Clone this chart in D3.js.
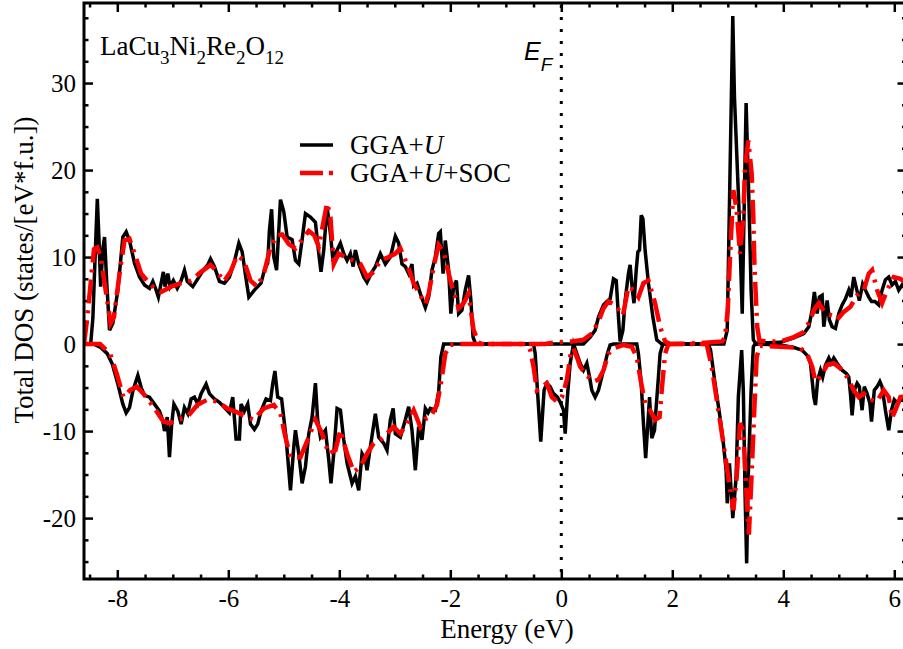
<!DOCTYPE html>
<html>
<head>
<meta charset="utf-8">
<script src="https://cdn.jsdelivr.net/npm/d3@7"></script>
<style>
  body { margin: 0; background: #fff; }
  svg { display: block; }
  .tick text { font-family: "Liberation Serif", "Times New Roman", serif; font-size: 25px; fill: #000; }
  .lbl { font-family: "Liberation Serif", "Times New Roman", serif; font-size: 27px; fill: #000; }
</style>
</head>
<body>
<div id="chart"></div>
<script>
// energy (eV), DOS (states/[eV*f.u.])
var ggaUp = [[-8.6,0],[-8.48,0],[-8.44,3],[-8.40,10],[-8.36,16.7],[-8.33,12],[-8.30,6.6],[-8.26,11],[-8.23,12.3],[-8.19,7],[-8.14,1.6],[-8.08,2.4],[-7.99,6.2],[-7.90,12.3],[-7.84,12.9],[-7.78,11.9],[-7.69,9.3],[-7.60,7.7],[-7.51,6.8],[-7.42,6.4],[-7.36,7.2],[-7.30,6.2],[-7.26,5.4],[-7.21,7.0],[-7.17,8.3],[-7.14,6.6],[-7.09,8.1],[-7.05,6.6],[-6.99,7.3],[-6.92,6.4],[-6.85,7.3],[-6.79,8.5],[-6.74,7.2],[-6.64,6.6],[-6.55,7.5],[-6.47,8.3],[-6.37,9.1],[-6.32,9.8],[-6.25,8.9],[-6.16,7.2],[-6.07,7.0],[-5.98,7.7],[-5.89,9.5],[-5.81,11.6],[-5.75,10.6],[-5.69,7.9],[-5.63,5.4],[-5.53,6.2],[-5.47,6.6],[-5.41,7.0],[-5.35,8.5],[-5.29,9.3],[-5.26,13.0],[-5.22,15.5],[-5.18,10],[-5.13,8.5],[-5.06,16.6],[-5.00,15.2],[-4.94,12.3],[-4.85,12.0],[-4.79,9.6],[-4.73,9.2],[-4.67,12.0],[-4.61,15.0],[-4.52,14.6],[-4.43,14.0],[-4.37,10.4],[-4.33,8.3],[-4.28,10.8],[-4.22,15.8],[-4.16,12.7],[-4.12,10.0],[-4.04,10.8],[-3.98,11.6],[-3.92,10.4],[-3.86,9.6],[-3.80,10.4],[-3.75,8.9],[-3.71,10.8],[-3.65,9.2],[-3.56,7.7],[-3.50,7.1],[-3.41,8.3],[-3.35,8.9],[-3.26,10.4],[-3.17,9.2],[-3.08,10.0],[-2.99,12.4],[-2.93,11.6],[-2.87,9.2],[-2.81,8.9],[-2.75,8.1],[-2.69,9.2],[-2.66,6.7],[-2.60,7.0],[-2.54,5.8],[-2.45,4.2],[-2.39,5.4],[-2.33,8.5],[-2.27,10.0],[-2.21,12.7],[-2.18,12.9],[-2.13,8.1],[-2.09,11.9],[-2.03,8.5],[-1.99,3.5],[-1.94,6.6],[-1.89,7.3],[-1.85,3.5],[-1.79,3.9],[-1.73,6.2],[-1.67,7.9],[-1.63,5.1],[-1.59,0.8],[-1.55,0.1],[-1.49,0],[0.40,0],[0.52,0.8],[0.61,1.6],[0.67,3.1],[0.76,4.5],[0.82,4.9],[0.88,5.2],[0.94,7.5],[0.99,7.3],[1.03,3.1],[1.06,0.3],[1.11,1.6],[1.15,5.0],[1.21,8.1],[1.24,9.1],[1.28,6.2],[1.31,4.7],[1.35,8.5],[1.38,10.6],[1.41,10.8],[1.44,14.8],[1.47,14.4],[1.51,10.8],[1.57,7.0],[1.65,3.1],[1.72,0.5],[1.81,0],[2.93,0],[2.99,1.6],[3.09,37.7],[3.12,28.4],[3.20,15.8],[3.26,3.5],[3.33,27.7],[3.38,16.6],[3.42,6.2],[3.46,0.5],[3.50,0.1],[3.95,0.2],[4.19,0.7],[4.37,1.2],[4.46,2.0],[4.52,3.9],[4.56,6.0],[4.61,3.5],[4.65,5.4],[4.70,5.6],[4.73,2.0],[4.79,5.0],[4.83,2.8],[4.88,2.0],[4.94,1.8],[5.00,3.5],[5.06,4.5],[5.12,5.2],[5.18,6.2],[5.22,5.4],[5.27,7.7],[5.31,6.6],[5.37,5.0],[5.43,6.9],[5.48,6.2],[5.54,5.4],[5.59,4.9],[5.65,4.9],[5.72,4.5],[5.78,6.2],[5.84,7.4],[5.90,7.7],[5.96,6.8],[6.02,7.2],[6.08,6.2],[6.14,6.8],[6.22,6.2]];

var ggaDn = [[-8.6,0],[-8.42,0],[-8.30,-0.4],[-8.18,-1.1],[-8.09,-2.3],[-7.99,-4.6],[-7.90,-6.9],[-7.84,-7.9],[-7.78,-7.3],[-7.72,-5.4],[-7.63,-3.6],[-7.57,-5.0],[-7.51,-5.9],[-7.42,-6.1],[-7.33,-6.9],[-7.24,-7.7],[-7.18,-8.8],[-7.15,-10.0],[-7.10,-8.4],[-7.06,-13.0],[-7.02,-9.2],[-6.98,-6.9],[-6.91,-7.7],[-6.85,-9.2],[-6.79,-7.3],[-6.73,-8.0],[-6.67,-6.3],[-6.61,-6.1],[-6.55,-6.9],[-6.49,-5.7],[-6.40,-4.6],[-6.34,-5.7],[-6.25,-6.3],[-6.16,-6.7],[-6.07,-7.3],[-5.98,-7.9],[-5.92,-6.1],[-5.86,-10.9],[-5.80,-10.9],[-5.77,-6.9],[-5.71,-7.7],[-5.65,-6.9],[-5.60,-9.2],[-5.53,-9.8],[-5.47,-9.2],[-5.41,-7.7],[-5.32,-6.3],[-5.24,-6.5],[-5.20,-4.6],[-5.16,-3.1],[-5.11,-6.1],[-5.04,-6.3],[-4.96,-10.7],[-4.88,-16.8],[-4.82,-11.8],[-4.79,-9.9],[-4.73,-12.6],[-4.67,-16.0],[-4.61,-14.1],[-4.55,-10.3],[-4.49,-8.4],[-4.43,-4.5],[-4.39,-8.7],[-4.34,-10.7],[-4.25,-9.9],[-4.19,-13.3],[-4.15,-16.0],[-4.10,-12.6],[-4.04,-7.4],[-3.98,-7.6],[-3.92,-11.0],[-3.86,-13.7],[-3.77,-16.0],[-3.71,-15.2],[-3.65,-16.8],[-3.59,-12.6],[-3.53,-13.3],[-3.50,-14.5],[-3.44,-11.8],[-3.35,-8.0],[-3.29,-10.7],[-3.20,-11.4],[-3.14,-12.2],[-3.08,-8.7],[-3.03,-7.4],[-2.99,-10.3],[-2.90,-10.7],[-2.81,-8.7],[-2.75,-7.2],[-2.69,-9.9],[-2.63,-14.5],[-2.57,-9.5],[-2.51,-11.0],[-2.45,-7.4],[-2.40,-7.9],[-2.36,-7.4],[-2.27,-7.6],[-2.21,-5.5],[-2.17,-1.5],[-2.12,0],[-0.50,0],[-0.47,-1.1],[-0.43,-5.3],[-0.37,-11.2],[-0.31,-5.3],[-0.26,-4.5],[-0.20,-4.9],[-0.14,-5.7],[-0.07,-6.1],[-0.01,-6.8],[0.04,-7.6],[0.07,-10.3],[0.11,-6.1],[0.16,-2.2],[0.22,0],[0.28,-1.1],[0.34,-2.2],[0.40,-3.0],[0.46,-2.2],[0.51,-3.8],[0.55,-5.3],[0.61,-6.1],[0.67,-5.3],[0.76,-3.0],[0.83,-1.1],[0.88,-0.1],[0.94,0],[1.36,0],[1.39,-1.1],[1.44,-4.5],[1.48,-9.1],[1.52,-13.1],[1.56,-9.1],[1.59,-6.1],[1.63,-10.8],[1.68,-9.9],[1.71,-7.2],[1.75,-3.8],[1.78,-1.1],[1.83,0],[2.65,0],[2.69,-0.7],[2.77,-4.5],[2.86,-8.4],[2.92,-11.4],[2.97,-14.5],[2.99,-18.3],[3.03,-13.7],[3.06,-16.8],[3.09,-20.0],[3.15,-15.3],[3.19,-6.1],[3.25,-0.7],[3.28,-5.3],[3.31,-16.8],[3.34,-25.2],[3.37,-14.9],[3.42,-5.3],[3.46,-0.3],[3.49,0],[3.95,-0.1],[4.19,-0.4],[4.34,-0.7],[4.43,-1.3],[4.49,-2.2],[4.55,-6.1],[4.58,-7.0],[4.62,-4.1],[4.67,-3.0],[4.71,-3.8],[4.76,-2.4],[4.82,-1.6],[4.86,-2.2],[4.91,-1.6],[4.97,-2.2],[5.06,-3.0],[5.14,-3.4],[5.18,-3.8],[5.21,-5.7],[5.24,-8.2],[5.28,-5.3],[5.33,-4.5],[5.37,-4.9],[5.42,-7.6],[5.46,-4.9],[5.51,-5.7],[5.56,-6.8],[5.59,-8.9],[5.64,-5.3],[5.69,-4.9],[5.74,-4.3],[5.78,-4.9],[5.84,-7.6],[5.90,-9.9],[5.95,-7.6],[6.00,-6.4],[6.06,-6.8],[6.12,-6.4],[6.22,-6.6]];

var socUp = [[-8.6,0],[-8.54,3.1],[-8.42,10.9],[-8.36,11.1],[-8.30,10.0],[-8.21,6.2],[-8.12,2.4],[-8.06,3.1],[-7.96,8.1],[-7.87,11.9],[-7.78,12.1],[-7.69,10.4],[-7.57,8.1],[-7.45,7.2],[-7.33,6.4],[-7.21,6.0],[-7.03,6.6],[-6.85,7.0],[-6.67,7.3],[-6.49,8.3],[-6.32,9.1],[-6.20,8.3],[-6.08,7.2],[-5.96,8.3],[-5.84,10.2],[-5.72,9.6],[-5.60,7.3],[-5.48,6.6],[-5.36,8.1],[-5.24,11.1],[-5.12,12.5],[-5.03,12.6],[-4.91,11.5],[-4.79,11.0],[-4.67,12.0],[-4.55,13.0],[-4.45,12.5],[-4.37,11.2],[-4.28,14.2],[-4.22,16.2],[-4.16,14.6],[-4.10,9.2],[-4.01,10.4],[-3.89,10.0],[-3.74,9.6],[-3.62,9.2],[-3.50,7.7],[-3.38,8.3],[-3.26,9.6],[-3.11,10.0],[-2.99,10.4],[-2.90,11.0],[-2.78,9.2],[-2.66,7.0],[-2.54,5.6],[-2.45,4.6],[-2.39,5.8],[-2.30,8.9],[-2.21,11.4],[-2.12,10.6],[-2.06,8.9],[-1.97,6.6],[-1.85,4.1],[-1.76,4.7],[-1.67,5.8],[-1.58,1.6],[-1.49,0.15],[-1.4,0],[-0.3,0],[-0.1,0.2],[0.2,0.3],[0.40,0.5],[0.55,1.2],[0.67,2.6],[0.76,4.1],[0.85,4.9],[0.97,4.5],[1.11,3.3],[1.21,6.6],[1.30,6.2],[1.39,5.4],[1.48,7.0],[1.57,7.3],[1.69,4.7],[1.78,2.0],[1.87,0.3],[1.96,0],[2.5,0.1],[2.9,0.3],[2.95,0.8],[3.00,4.0],[3.04,10.0],[3.10,17.7],[3.16,15.4],[3.22,10.4],[3.28,14.6],[3.31,20.3],[3.37,23.4],[3.43,19.6],[3.46,14.6],[3.48,9.1],[3.50,6.2],[3.53,2.0],[3.57,0.4],[3.7,0.3],[3.95,0.3],[4.19,0.8],[4.37,1.4],[4.49,2.8],[4.55,3.9],[4.64,4.7],[4.76,3.5],[4.88,3.3],[4.97,2.8],[5.09,3.7],[5.21,4.3],[5.33,5.6],[5.45,6.2],[5.54,8.1],[5.60,8.5],[5.69,6.2],[5.78,4.7],[5.87,6.2],[5.99,7.7],[6.11,7.5],[6.22,7.0]];

var socDn = [[-8.6,0],[-8.31,0],[-8.13,-1.1],[-8.01,-3.4],[-7.89,-6.1],[-7.77,-5.3],[-7.65,-4.9],[-7.53,-5.7],[-7.35,-7.2],[-7.17,-8.9],[-7.05,-9.1],[-6.93,-8.7],[-6.74,-8.4],[-6.56,-7.0],[-6.38,-6.4],[-6.20,-6.6],[-6.02,-7.4],[-5.85,-7.8],[-5.67,-8.4],[-5.54,-8.7],[-5.36,-7.4],[-5.18,-7.0],[-5.06,-8.0],[-4.97,-10.7],[-4.88,-13.0],[-4.70,-13.0],[-4.55,-10.7],[-4.43,-8.7],[-4.31,-10.3],[-4.19,-12.6],[-4.07,-12.2],[-3.98,-9.9],[-3.86,-12.6],[-3.74,-14.7],[-3.62,-14.1],[-3.50,-12.6],[-3.38,-11.4],[-3.26,-11.0],[-3.14,-10.3],[-3.02,-9.5],[-2.90,-10.3],[-2.78,-9.1],[-2.66,-7.6],[-2.54,-9.5],[-2.45,-8.6],[-2.36,-8.4],[-2.24,-7.0],[-2.15,-3.8],[-2.09,-1.1],[-2.0,-0.1],[-1.9,0],[-0.62,0],[-0.56,-0.7],[-0.50,-2.6],[-0.44,-5.3],[-0.35,-4.9],[-0.26,-4.5],[-0.17,-6.1],[-0.08,-6.6],[0.01,-6.1],[0.10,-4.1],[0.17,-1.1],[0.22,-0.5],[0.28,-1.5],[0.34,-2.6],[0.46,-3.6],[0.58,-4.3],[0.67,-4.1],[0.76,-3.0],[0.85,-1.1],[0.94,-0.5],[1.12,-0.1],[1.27,-0.3],[1.36,-1.5],[1.44,-4.5],[1.51,-6.8],[1.60,-7.6],[1.69,-8.7],[1.77,-8.4],[1.81,-5.3],[1.87,-1.1],[1.93,0],[2.62,0],[2.71,-2.6],[2.83,-7.6],[2.92,-11.4],[3.01,-15.3],[3.10,-19.1],[3.16,-15.3],[3.22,-9.1],[3.28,-10],[3.34,-17.6],[3.38,-21.9],[3.43,-14.9],[3.48,-7.2],[3.52,-1.5],[3.58,-0.2],[3.95,-0.3],[4.19,-0.4],[4.31,-0.5],[4.43,-1.1],[4.52,-2.6],[4.58,-4.3],[4.67,-3.8],[4.79,-2.4],[4.91,-2.2],[5.03,-2.8],[5.15,-3.8],[5.27,-5.3],[5.36,-6.1],[5.45,-5.7],[5.57,-6.4],[5.69,-6.6],[5.81,-5.3],[5.90,-6.1],[5.96,-8.5],[6.02,-7.6],[6.11,-6.1],[6.22,-6.0]];

var xMajor = [-8, -6, -4, -2, 0, 2, 4, 6];
var yMajor = [-20, -10, 0, 10, 20, 30];
var legendLabels = ["GGA+", "GGA+"];

var W = 903, H = 649;
var svg = d3.select("#chart").append("svg").attr("width", W).attr("height", H);

var x = d3.scaleLinear().domain([-8.6, 6.22]).range([84, 906.5]);
var y = d3.scaleLinear().domain([-27, 39.2]).range([579, 3]);

var xMinor = d3.range(-8.5, 6.21, 0.5).filter(v => xMajor.indexOf(v) < 0);
var yMinor = d3.range(-25, 39, 2.5).filter(v => yMajor.indexOf(v) < 0);

svg.append("clipPath").attr("id", "plotclip")
  .append("rect").attr("x", 84).attr("y", 3).attr("width", 822).attr("height", 576);

var fmt = function(d) { return String(d); };

// axes: ticks pointing inward on all four sides
function addAxis(axisFn, tr, ticks, size, labels, pad) {
  var a = axisFn.tickValues(ticks).tickSizeInner(-size).tickSizeOuter(0).tickPadding(pad || 0)
    .tickFormat(labels ? fmt : "");
  var g = svg.append("g").attr("transform", tr).call(a);
  g.select(".domain").remove();
  g.selectAll(".tick line").attr("stroke", "#000").attr("stroke-width", 2.5);
  return g;
}
addAxis(d3.axisBottom(x), "translate(0,579)", xMajor, 9, true, 10);
addAxis(d3.axisBottom(x), "translate(0,579)", xMinor, 4.5, false);
addAxis(d3.axisTop(x), "translate(0,3)", xMajor, 9, false);
addAxis(d3.axisTop(x), "translate(0,3)", xMinor, 4.5, false);
addAxis(d3.axisLeft(y), "translate(84,0)", yMajor, 9, true, 8);
addAxis(d3.axisLeft(y), "translate(84,0)", yMinor, 4.5, false);
addAxis(d3.axisRight(y), "translate(906.5,0)", yMajor, 9, false);
addAxis(d3.axisRight(y), "translate(906.5,0)", yMinor, 4.5, false);

// Fermi level
svg.append("line")
  .attr("x1", x(0)).attr("x2", x(0)).attr("y1", 5).attr("y2", 578)
  .attr("stroke", "#000").attr("stroke-width", 3).attr("stroke-dasharray", "3,9");

var line = d3.line().x(d => x(d[0])).y(d => y(d[1]));
var plot = svg.append("g").attr("clip-path", "url(#plotclip)");

[ggaUp, ggaDn].forEach(function(s) {
  plot.append("path").attr("d", line(s)).attr("fill", "none")
    .attr("stroke", "#000").attr("stroke-width", 3.5);
});
[socUp, socDn].forEach(function(s) {
  plot.append("path").attr("d", line(s)).attr("fill", "none")
    .attr("stroke", "#ff0000").attr("stroke-width", 4.5).attr("stroke-dasharray", "24,7,3,7");
});

// frame
svg.append("rect").attr("x", 84).attr("y", 3).attr("width", 822.5).attr("height", 576)
  .attr("fill", "none").attr("stroke", "#000").attr("stroke-width", 3);

// labels
svg.append("text").attr("class", "lbl").attr("x", 507).attr("y", 638)
  .attr("text-anchor", "middle").text("Energy (eV)");

svg.append("text").attr("class", "lbl")
  .attr("transform", "translate(33,270) rotate(-90)")
  .attr("text-anchor", "middle").text("Total DOS (states/[eV*f.u.])");

var formula = svg.append("text").attr("class", "lbl").attr("x", 100).attr("y", 55);
[["La", 0], ["Cu", 0], ["3", 1], ["Ni", 0], ["2", 1], ["Re", 0], ["2", 1], ["O", 0], ["12", 1]]
  .forEach(function(p, i, arr) {
    var prevSub = i > 0 && arr[i - 1][1];
    var dy = p[1] && !prevSub ? 9 : (!p[1] && prevSub ? -9 : 0);
    formula.append("tspan").attr("dy", dy)
      .style("font-size", p[1] ? "19px" : "27px").text(p[0]);
  });

var ef = svg.append("text").attr("x", 524).attr("y", 60)
  .style("font-family", "'Liberation Sans', Arial, sans-serif").style("font-style", "italic")
  .style("font-size", "25px");
ef.append("tspan").text("E");
ef.append("tspan").attr("dy", 11).style("font-size", "19px").text("F");

// legend
var legY = [145, 173];
svg.append("line").attr("x1", 300).attr("x2", 333).attr("y1", legY[0]).attr("y2", legY[0])
  .attr("stroke", "#000").attr("stroke-width", 3.5);
svg.append("line").attr("x1", 300).attr("x2", 334).attr("y1", legY[1]).attr("y2", legY[1])
  .attr("stroke", "#ff0000").attr("stroke-width", 4.5).attr("stroke-dasharray", "23,6,4,6");
legendLabels.forEach(function(t, i) {
  var tx = svg.append("text").attr("class", "lbl").attr("x", 350).attr("y", legY[i] + 9);
  tx.append("tspan").text(t);
  tx.append("tspan").style("font-style", "italic").text("U");
  if (i === 1) tx.append("tspan").text("+SOC");
});
</script>
</body>
</html>
